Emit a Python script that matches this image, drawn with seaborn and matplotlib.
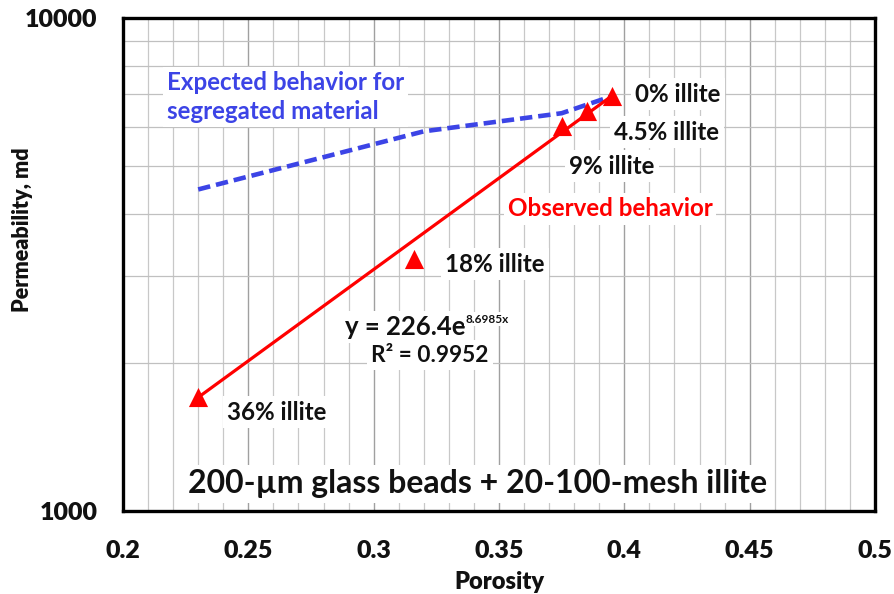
import matplotlib
matplotlib.use("Agg")
import matplotlib.pyplot as plt
import seaborn as sns
import pandas as pd
from matplotlib.ticker import MultipleLocator, FixedLocator, NullFormatter, FixedFormatter

# ---------------- data ----------------
porosity = [0.230, 0.316, 0.375, 0.385, 0.395]
permeability = [1705, 3240, 6040, 6480, 6935]
illite_labels = ["36% illite", "18% illite", "9% illite", "4.5% illite", "0% illite"]

trend_x = [0.230, 0.395]
trend_y = [1700, 6950]

expected_x = [0.230, 0.320, 0.375, 0.395]
expected_y = [4490, 5890, 6410, 6940]

x_ticks = [0.2, 0.25, 0.3, 0.35, 0.4, 0.45, 0.5]
x_tick_labels = ["0.2", "0.25", "0.3", "0.35", "0.4", "0.45", "0.5"]
y_ticks = [1000, 10000]
y_tick_labels = ["1000", "10000"]

# ---------------- style ----------------
sns.set_theme(style="white")
plt.rcParams["font.family"] = ["Lato", "DejaVu Sans"]
plt.rcParams["font.weight"] = "bold"

W, H = 894, 594
fig = plt.figure(figsize=(W / 100, H / 100), dpi=100)
L, R, T, B = 123, 875, 18, 511
ax = fig.add_axes([L / W, 1 - B / H, (R - L) / W, (B - T) / H])


def af(px, py):
    return ((px - L) / (R - L), (B - py) / (B - T))


RED = "#ff0000"
BLUE = "#3c44e6"
INK = "#111111"

df_pts = pd.DataFrame({"porosity": porosity, "perm": permeability})
df_trend = pd.DataFrame({"porosity": trend_x, "perm": trend_y})
df_exp = pd.DataFrame({"porosity": expected_x, "perm": expected_y})

sns.lineplot(data=df_exp, x="porosity", y="perm", ax=ax, color=BLUE,
             linewidth=3.3, sort=False, zorder=3)
ax.lines[-1].set_dashes([2.7, 1.3])
sns.lineplot(data=df_trend, x="porosity", y="perm", ax=ax, color=RED,
             linewidth=2.3, sort=False, zorder=4)
sns.scatterplot(data=df_pts, x="porosity", y="perm", ax=ax, marker="^",
                color=RED, s=190, linewidth=0, zorder=5)

ax.set_yscale("log")
ax.set_xlim(0.2, 0.5)
ax.set_ylim(1000, 10000)

ax.xaxis.set_major_locator(FixedLocator(x_ticks))
ax.xaxis.set_major_formatter(FixedFormatter(x_tick_labels))
ax.xaxis.set_minor_locator(MultipleLocator(0.01))
ax.yaxis.set_major_locator(FixedLocator(y_ticks))
ax.yaxis.set_major_formatter(FixedFormatter(y_tick_labels))
ax.yaxis.set_minor_locator(FixedLocator([2000, 3000, 4000, 5000, 6000, 7000, 8000, 9000]))
ax.yaxis.set_minor_formatter(NullFormatter())

ax.set_axisbelow(True)
ax.grid(True, which="major", axis="x", color="#a0a0a0", linewidth=1.0)
ax.grid(True, which="minor", axis="x", color="#c8c8c8", linewidth=0.9)
ax.grid(True, which="minor", axis="y", color="#c0c0c0", linewidth=0.9)

ax.tick_params(axis="both", which="both", length=0, labelcolor=INK)
ax.tick_params(axis="x", pad=21, labelsize=18)
ax.tick_params(axis="y", pad=18.5, labelsize=18)

for s in ax.spines.values():
    s.set_visible(True)
    s.set_color("black")
    s.set_linewidth(2.4)

ax.set_xlabel("")
ax.set_ylabel("")

fig.canvas.draw()
for lab in ax.get_xticklabels() + ax.get_yticklabels():
    lab.set_fontweight("heavy")

fig.text(23 / W, 1 - 230 / H, "Permeability, md", rotation=90, ha="center",
         va="center", fontsize=15.5, fontweight="heavy", color=INK)
fig.text(499 / W, 1 - 582 / H, "Porosity", ha="center", va="center",
         fontsize=17, fontweight="heavy", color=INK)

box = dict(facecolor="white", edgecolor="none", pad=3)


def label(px, py, s, **kw):
    opts = dict(ha="center", va="center", fontsize=17.4, fontweight="bold",
                color=INK, bbox=box, zorder=2.5, transform=ax.transAxes)
    opts.update(kw)
    return ax.text(*af(px, py), s, **opts)


label(167, 97, "Expected behavior for\nsegregated material", ha="left",
      color=BLUE, linespacing=1.35)
label(678, 94, illite_labels[4])
label(667, 132, illite_labels[3])
label(612, 166, illite_labels[2])
label(610, 209, "Observed behavior", color=RED)
label(495, 264, illite_labels[1])
label(277, 412, illite_labels[0])
eq = label(345, 327, "y = 226.4e", ha="left", fontsize=18.5)
ax.annotate("8.6985x", xy=(1, 0.6), xycoords=eq, ha="left", va="bottom",
            fontsize=8.5, fontweight="bold", color=INK, zorder=2.5,
            annotation_clip=False,
            bbox=dict(facecolor="white", edgecolor="none", pad=1))
label(430, 355, "R² = 0.9952", fontsize=16.3)
label(478, 484, "200-µm glass beads + 20-100-mesh illite", fontsize=23,
      fontweight="bold")

fig.savefig("out.png", dpi=100)
